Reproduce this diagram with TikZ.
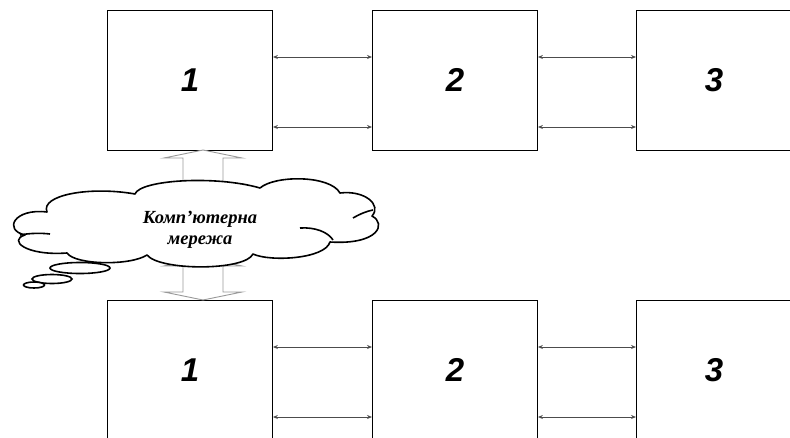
\documentclass[tikz,border=0pt]{standalone}
\usepackage{fontspec}
\setmainfont{Liberation Serif}
\newfontfamily\numfont{Liberation Sans}
\usetikzlibrary{arrows.meta}
\begin{document}
\begin{tikzpicture}[x=1pt,y=-1pt,
  box/.style={draw=black,line width=0.9pt,fill=white,minimum width=165pt,minimum height=140pt,inner sep=0pt,
    font=\numfont\bfseries\itshape\fontsize{33}{33}\selectfont},
  link/.style={draw=black!70,line width=0.8pt,{Stealth[length=5pt,width=4pt]}-{Stealth[length=5pt,width=4pt]}},
  fat/.style={draw=black!40,line width=0.9pt,fill=white},
  puff/.style={draw=black,line width=1.6pt,fill=white}]
\useasboundingbox (0,0) rectangle (790,437);
\clip (0,0) rectangle (790,437);
% top row
\node[box,anchor=north west] (t1) at (107,10) {1};
\node[box,anchor=north west] (t2) at (372,10) {2};
\node[box,anchor=north west,minimum width=155pt] (t3) at (636,10) {3};
% bottom row
\node[box,anchor=north west] (u1) at (107,300) {1};
\node[box,anchor=north west] (u2) at (372,300) {2};
\node[box,anchor=north west,minimum width=155pt] (u3) at (636,300) {3};
% connectors
\draw[link] (t1.east |- 0,57) -- (t2.west |- 0,57);
\draw[link] (t1.east |- 0,127) -- (t2.west |- 0,127);
\draw[link] (t2.east |- 0,57) -- (t3.west |- 0,57);
\draw[link] (t2.east |- 0,127) -- (t3.west |- 0,127);
\draw[link] (u1.east |- 0,347) -- (u2.west |- 0,347);
\draw[link] (u1.east |- 0,417) -- (u2.west |- 0,417);
\draw[link] (u2.east |- 0,347) -- (u3.west |- 0,347);
\draw[link] (u2.east |- 0,417) -- (u3.west |- 0,417);
% fat arrows
\draw[fat] (203,150) -- (242,158) -- (223,158) -- (223,184) -- (242,184) -- (203,192)
  -- (164,184) -- (183,184) -- (183,158) -- (164,158) -- cycle;
\draw[fat] (203,258) -- (242,266) -- (223,266) -- (223,292) -- (242,292) -- (203,300)
  -- (164,292) -- (183,292) -- (183,266) -- (164,266) -- cycle;
% cloud
\draw[puff,line join=round]
  (47,212) .. controls (40,195) and (90,186) .. (135,194)
  .. controls (140,180) and (215,175) .. (260,188)
  .. controls (275,175) and (330,175) .. (340,193)
  .. controls (365,190) and (382,205) .. (372,216)
  .. controls (387,224) and (378,245) .. (330,242)
  .. controls (325,259) and (270,262) .. (253,254)
  .. controls (245,271) and (160,271) .. (147,255)
  .. controls (130,266) and (75,265) .. (67,253)
  .. controls (25,256) and (8,240) .. (25,235)
  .. controls (3,230) and (14,208) .. (47,212) -- cycle;
\draw[line width=1.6pt] (20,235) .. controls (30,233) and (42,233) .. (50,234);
\draw[line width=1.6pt] (300,228) .. controls (315,227) and (328,232) .. (333,240);
\draw[line width=1.6pt] (353,218) .. controls (360,214) and (367,211) .. (373,210);
\node[font=\bfseries\itshape\fontsize{18.5}{21}\selectfont,align=center,inner sep=0pt] (net) at (200,230) {Комп’ютерна\\мережа};
% thought bubbles
\draw[puff] (80,268) ellipse (30pt and 5.5pt);
\draw[puff] (52,279) ellipse (20pt and 4.5pt);
\draw[puff] (34,285) ellipse (10.5pt and 3pt);
\end{tikzpicture}
\end{document}
